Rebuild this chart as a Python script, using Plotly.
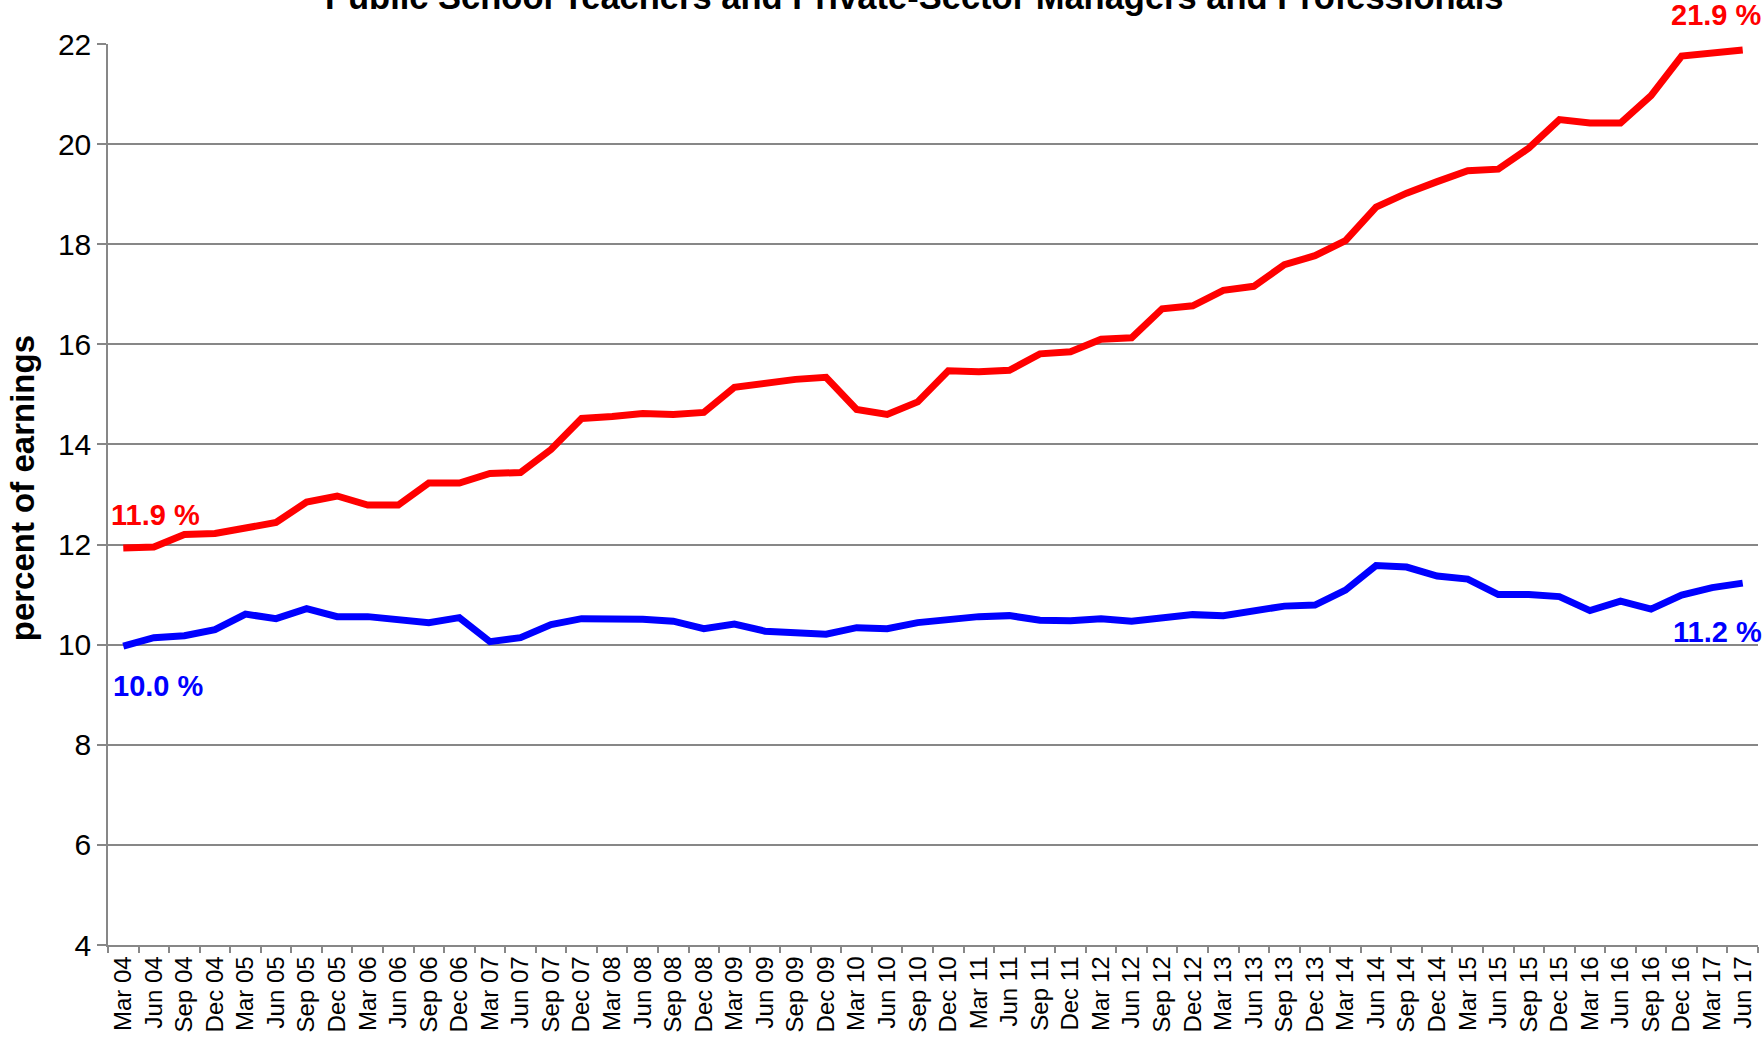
import plotly.graph_objects as go

quarters = ["Mar", "Jun", "Sep", "Dec"]
categories = [f"{q} {y:02d}" for y in range(4, 18) for q in quarters][:54]

teachers = [11.93, 11.95, 12.20, 12.22, 12.33, 12.44, 12.85, 12.97, 12.79, 12.79,
            13.23, 13.23, 13.42, 13.44, 13.90, 14.52, 14.56, 14.62, 14.60, 14.64,
            15.14, 15.22, 15.30, 15.34, 14.70, 14.60, 14.85, 15.47, 15.45, 15.48,
            15.81, 15.85, 16.10, 16.13, 16.71, 16.77, 17.08, 17.16, 17.59, 17.77,
            18.07, 18.74, 19.02, 19.25, 19.47, 19.50, 19.92, 20.49, 20.42, 20.42,
            20.97, 21.76, 21.82, 21.88]

private = [9.97, 10.14, 10.18, 10.30, 10.61, 10.52, 10.72, 10.56, 10.56, 10.50,
           10.44, 10.54, 10.06, 10.14, 10.40, 10.52, 10.52, 10.51, 10.47, 10.32,
           10.41, 10.27, 10.24, 10.21, 10.34, 10.32, 10.44, 10.50, 10.56, 10.58,
           10.49, 10.48, 10.52, 10.47, 10.52, 10.60, 10.58, 10.68, 10.77, 10.79,
           11.09, 11.58, 11.55, 11.37, 11.31, 11.00, 11.00, 10.96, 10.68, 10.87,
           10.71, 10.99, 11.14, 11.23]

y_ticks = [4, 6, 8, 10, 12, 14, 16, 18, 20, 22]

title_text = "Public School Teachers and Private-Sector Managers and Professionals"
y_title = "percent of earnings"
RED = "#FF0000"
BLUE = "#0000FF"
GRID = "#878787"
FONT = "Liberation Sans, Arial, sans-serif"

fig = go.Figure()
fig.add_trace(go.Scatter(x=categories, y=teachers, mode="lines",
                         line=dict(color=RED, width=7), name="Teachers"))
fig.add_trace(go.Scatter(x=categories, y=private, mode="lines",
                         line=dict(color=BLUE, width=7), name="Private"))

W, H = 1764, 1037
L, R, T, B = 108, 6, 43.5, 92
pw, ph = W - L - R, H - T - B

def px(x):
    return (x - L) / pw

def py(y):
    return (H - B - y) / ph

annots = [
    dict(text=title_text, x=px(914), y=py(17), xanchor="center", yanchor="bottom",
         font=dict(size=34.5, color="black", family=FONT, weight="bold")),
    dict(text=y_title, x=px(22), y=py(488), xanchor="center", yanchor="middle",
         textangle=-90, font=dict(size=33, color="black", family=FONT, weight="bold")),
    dict(text=f"{teachers[0]:.1f} %", x=px(109), y=py(515), xanchor="left", yanchor="middle",
         font=dict(size=29, color=RED, family=FONT, weight="bold")),
    dict(text=f"{private[0]:.1f} %", x=px(111), y=py(685.5), xanchor="left", yanchor="middle",
         font=dict(size=29, color=BLUE, family=FONT, weight="bold")),
    dict(text=f"{teachers[-1]:.1f} %", x=px(1764), y=py(14.5), xanchor="right", yanchor="middle",
         font=dict(size=29, color=RED, family=FONT, weight="bold")),
    dict(text=f"{private[-1]:.1f} %", x=px(1764), y=py(632), xanchor="right", yanchor="middle",
         font=dict(size=29, color=BLUE, family=FONT, weight="bold")),
]
for a in annots:
    a.update(xref="paper", yref="paper", showarrow=False)

fig.update_layout(
    width=W, height=H,
    margin=dict(l=L, r=R, t=T, b=B),
    paper_bgcolor="white", plot_bgcolor="white",
    showlegend=False,
    font=dict(family=FONT, color="black"),
    annotations=annots,
)
fig.update_xaxes(
    type="category", range=[-0.5, len(categories) - 0.5],
    tickangle=-90, tickfont=dict(size=24, color="black"),
    showgrid=False, showline=True, linecolor=GRID, linewidth=1.5,
    ticks="outside", tickson="boundaries", ticklen=6, tickcolor=GRID, tickwidth=1.5,
    zeroline=False,
)
fig.update_yaxes(
    range=[4, 22], tickvals=y_ticks, ticktext=[str(v) for v in y_ticks],
    tickfont=dict(size=30, color="black"),
    showgrid=True, gridcolor=GRID, gridwidth=1.5,
    showline=True, linecolor=GRID, linewidth=1.5,
    ticks="outside", ticklen=9, tickcolor=GRID, tickwidth=1.5,
    zeroline=False,
)

fig.write_html(
    "out.html",
    config={"displayModeBar": False},
    post_script="document.body.style.margin='0';document.body.style.overflow='hidden';",
)
